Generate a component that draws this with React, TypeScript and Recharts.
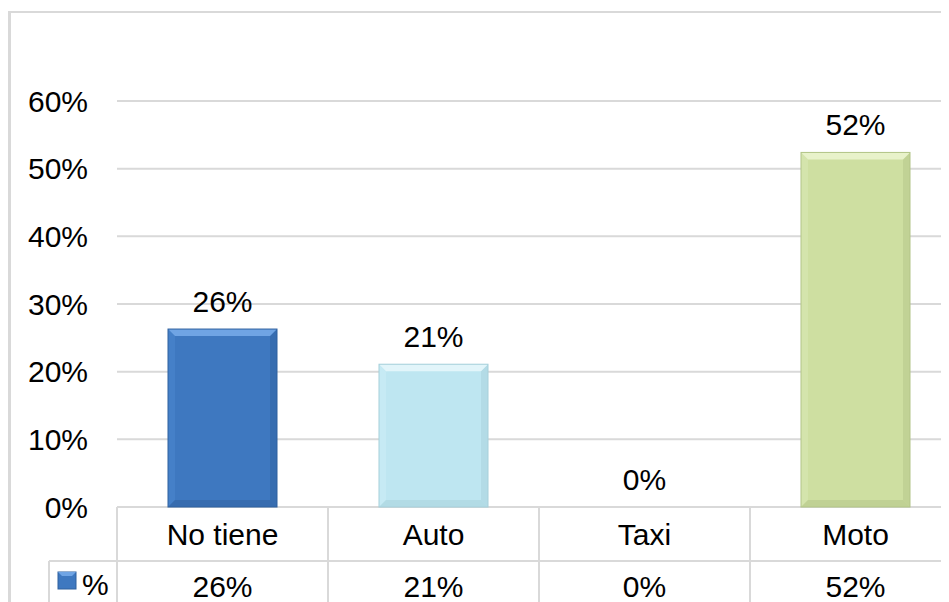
import React from 'react';
import { BarChart, Bar, XAxis, YAxis, CartesianGrid, LabelList } from 'recharts';

const categories = ['No tiene', 'Auto', 'Taxi', 'Moto'];
const values = [0.263, 0.211, 0, 0.524];
const yTicks = [0, 0.1, 0.2, 0.3, 0.4, 0.5, 0.6];
const seriesName = '%';

const palette = [
  { base: '#3e78c0', light: '#6fa4e4', side: '#4580c8', dark: '#2f609e' },
  { base: '#bee6f1', light: '#e2f5fa', side: '#c6eaf4', dark: '#a6cfda' },
  { base: '#a9c6e8', light: '#d0e2f6', side: '#b4cdeb', dark: '#86a6cc' },
  { base: '#cedfa1', light: '#e8f2ca', side: '#d4e4ac', dark: '#b2c487' },
];

const data = categories.map((name, i) => ({ name, value: values[i] }));

const FONT = '"Liberation Sans", Arial, sans-serif';
const pct = (v: number) => `${Math.round(v * 100)}%`;
const GRID = '#d9d9d9';

function BevelBar(props: any) {
  const { x, y, width: w, height: h, index } = props;
  if (!h || h <= 0) return null;
  const c = palette[index % palette.length];
  const b = Math.min(7, h / 2);
  return (
    <g>
      <rect x={x} y={y} width={w} height={h} fill={c.base} />
      <polygon points={`${x},${y} ${x + b},${y + b} ${x + b},${y + h - b} ${x},${y + h}`} fill={c.side} />
      <polygon points={`${x + w},${y} ${x + w},${y + h} ${x + w - b},${y + h - b} ${x + w - b},${y + b}`} fill={c.dark} opacity={0.45} />
      <polygon points={`${x},${y + h} ${x + w},${y + h} ${x + w - b},${y + h - b} ${x + b},${y + h - b}`} fill={c.dark} opacity={0.5} />
      <polygon points={`${x},${y} ${x + w},${y} ${x + w - b},${y + b} ${x + b},${y + b}`} fill={c.light} />
      <rect x={x} y={y} width={w} height={h} fill="none" stroke={c.dark} strokeWidth={1} />
    </g>
  );
}

function TableTick(props: any) {
  const { x, y, payload, index, width, visibleTicksCount } = props;
  const cellW = typeof width === 'number' && visibleTicksCount ? width / visibleTicksCount : 211;
  const left = x - cellW / 2;
  const right = x + cellW / 2;
  const rowY = y + 54;
  const bottom = y + 140;
  const value = values[index];
  const key = palette[0];
  return (
    <g>
      <line x1={left} y1={y} x2={left} y2={bottom} stroke={GRID} strokeWidth={2} />
      <line x1={right} y1={y} x2={right} y2={bottom} stroke={GRID} strokeWidth={2} />
      <line x1={left} y1={rowY} x2={right} y2={rowY} stroke={GRID} strokeWidth={2} />
      <text x={x} y={y + 38} textAnchor="middle" fontSize={30} fontFamily={FONT} fill="#000">
        {payload.value}
      </text>
      <text x={x} y={y + 90} textAnchor="middle" fontSize={30} fontFamily={FONT} fill="#000">
        {pct(value)}
      </text>
      {index === 0 && (
        <g>
          <line x1={left - 68} y1={rowY} x2={left} y2={rowY} stroke={GRID} strokeWidth={2} />
          <line x1={left - 68} y1={rowY} x2={left - 68} y2={bottom} stroke={GRID} strokeWidth={2} />
          <rect x={left - 59} y={y + 65} width={18} height={17} fill={key.base} stroke={key.dark} strokeWidth={1} />
          <polygon
            points={`${left - 59},${y + 65} ${left - 41},${y + 65} ${left - 45},${y + 69} ${left - 55},${y + 69}`}
            fill={key.light}
          />
          <text x={left - 35} y={y + 88} textAnchor="start" fontSize={30} fontFamily={FONT} fill="#000">
            {seriesName}
          </text>
        </g>
      )}
    </g>
  );
}

export default function App() {
  return (
    <div style={{ position: 'relative', width: 941, height: 594, overflow: 'hidden', background: '#fff' }}>
      <div
        style={{
          position: 'absolute',
          left: 0,
          top: 3,
          width: 1200,
          height: 900,
          borderLeft: `3px solid ${GRID}`,
          borderTop: `2px solid ${GRID}`,
          boxSizing: 'border-box',
        }}
      />
      <div style={{ position: 'absolute', left: 0, top: 0 }}>
        <BarChart
          width={963}
          height={620}
          data={data}
          margin={{ top: 93, right: 10, bottom: 0, left: 29 }}
          barSize={109}
        >
          <CartesianGrid vertical={false} stroke={GRID} strokeWidth={2} />
          <XAxis
            dataKey="name"
            height={121}
            axisLine={false}
            tickLine={false}
            tickSize={0}
            tickMargin={0}
            interval={0}
            tick={<TableTick />}
          />
          <YAxis
            type="number"
            domain={[0, 0.6]}
            ticks={yTicks}
            tickFormatter={pct}
            width={80}
            axisLine={false}
            tickLine={false}
            tickSize={0}
            tickMargin={29}
            tick={{ fill: '#000', fontSize: 30, fontFamily: FONT }}
          />
          <Bar dataKey="value" isAnimationActive={false} shape={<BevelBar />}>
            <LabelList
              dataKey="value"
              position="top"
              offset={17}
              formatter={(v: any) => pct(Number(v))}
              fill="#000"
              fontSize={30}
              fontFamily={FONT}
            />
          </Bar>
        </BarChart>
      </div>
    </div>
  );
}
